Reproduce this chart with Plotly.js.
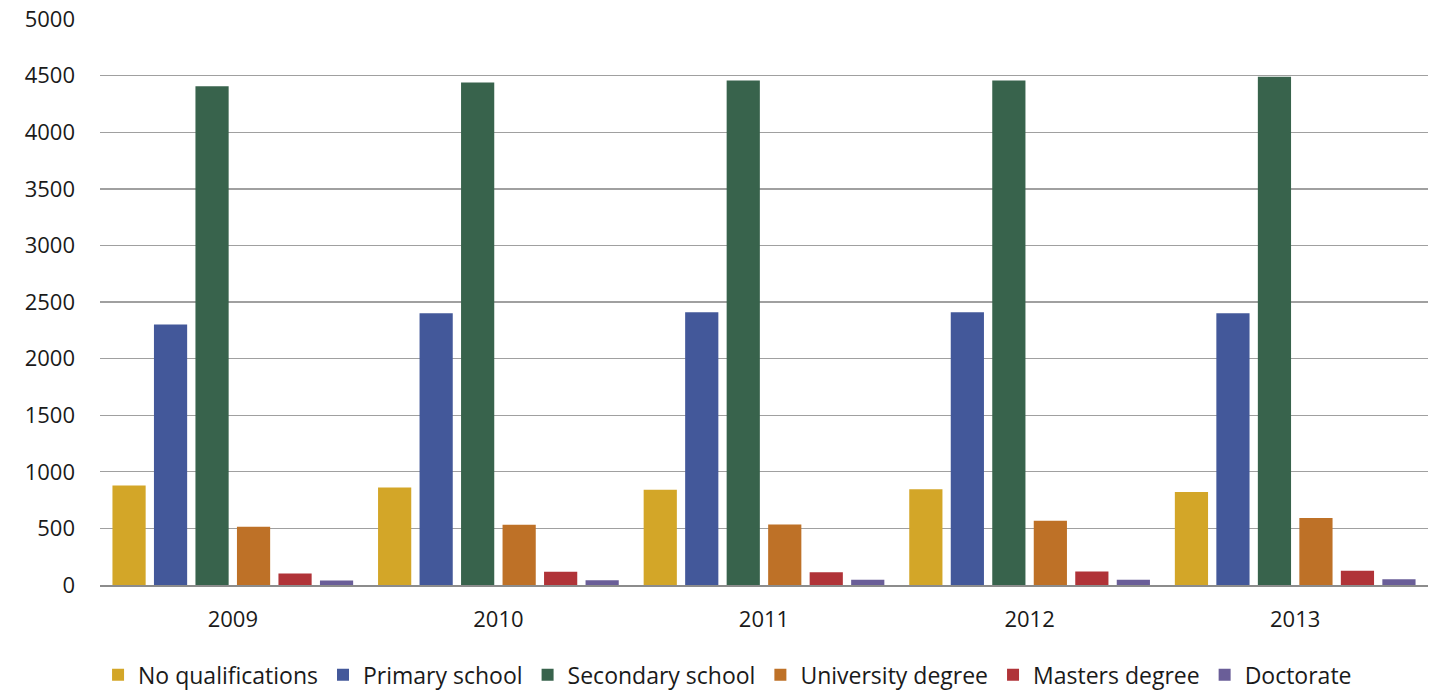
<!DOCTYPE html>
<html>
<head>
<meta charset="utf-8">
<script src="https://cdn.plot.ly/plotly-3.0.1.min.js"></script>
<style>html,body{margin:0;padding:0;background:#fff;}#chart{width:1442px;height:690px;}</style>
</head>
<body>
<div id="chart"></div>
<script>
const years = ["2009", "2010", "2011", "2012", "2013"];
const seriesNames = ["No qualifications", "Primary school", "Secondary school", "University degree", "Masters degree", "Doctorate"];
const noQualifications = [880, 862, 842, 845, 822];
const primarySchool = [2302, 2400, 2410, 2410, 2400];
const secondarySchool = [4405, 4440, 4456, 4456, 4490];
const universityDegree = [515, 533, 535, 568, 591];
const mastersDegree = [102, 116, 113, 119, 125];
const doctorate = [40, 41, 46, 46, 51];
const yTicks = [0, 500, 1000, 1500, 2000, 2500, 3000, 3500, 4000, 4500, 5000];
const colors = ["#D3A628", "#43589A", "#38634C", "#BE7127", "#B03338", "#6A5E98"];

const allValues = [noQualifications, primarySchool, secondarySchool, universityDegree, mastersDegree, doctorate];
const traces = allValues.map((vals, i) => ({
  type: "bar",
  name: seriesNames[i],
  x: years,
  y: vals,
  marker: {color: colors[i], line: {width: 0}},
  hoverinfo: "x+y+name"
}));

const layout = {
  width: 1442,
  height: 690,
  margin: {l: 100, r: 14, t: 19, b: 105, pad: 0, autoexpand: false},
  paper_bgcolor: "#ffffff",
  plot_bgcolor: "#ffffff",
  barmode: "group",
  bargap: 0.0625,
  bargroupgap: 0.2,
  font: {family: "Open Sans, Liberation Sans, sans-serif", size: 22, color: "#1a1a1a"},
  xaxis: {
    type: "category",
    showgrid: false,
    showline: true,
    linecolor: "#8c8c8c",
    linewidth: 2,
    ticks: "",
    tickfont: {size: 22, color: "#1a1a1a"},
    ticklabelstandoff: 14,
    automargin: false,
    fixedrange: true
  },
  yaxis: {
    range: [0, 5000],
    tickvals: yTicks,
    ticktext: yTicks.map(String),
    showgrid: true,
    gridcolor: "#a0a0a0",
    gridwidth: 1.4,
    zeroline: false,
    showline: false,
    ticks: "",
    tickfont: {size: 22, color: "#1a1a1a"},
    ticklabelstandoff: 24,
    automargin: false,
    fixedrange: true
  },
  showlegend: true,
  legend: {
    orientation: "h",
    xref: "container",
    x: 0.068,
    xanchor: "left",
    yref: "container",
    y: 0.022,
    yanchor: "middle",
    font: {size: 23, color: "#1a1a1a"},
    itemwidth: 30,
    traceorder: "normal"
  }
};

Plotly.newPlot("chart", traces, layout, {displayModeBar: false, staticPlot: true});
</script>
</body>
</html>
